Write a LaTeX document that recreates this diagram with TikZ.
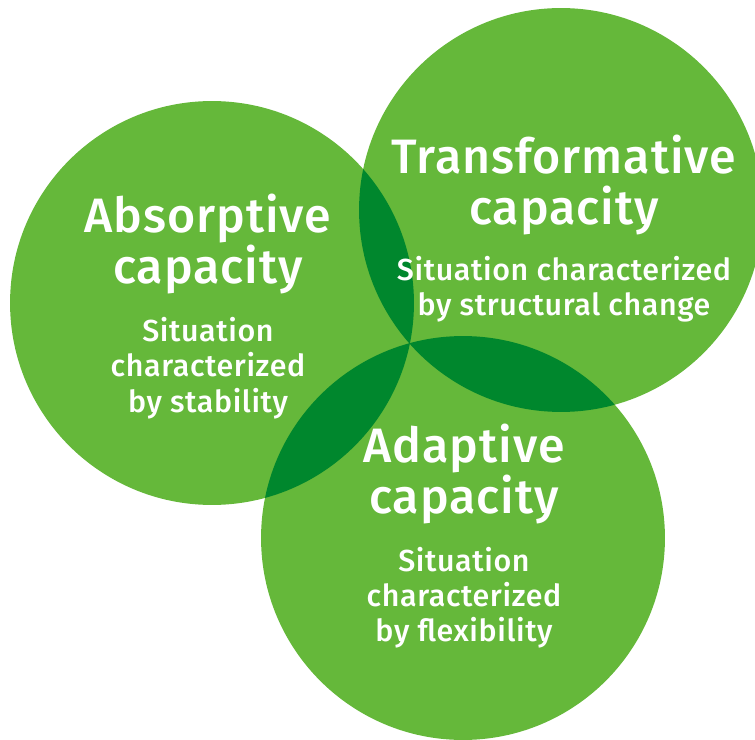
\documentclass[tikz,border=0pt]{standalone}
\usepackage{fontspec}
\setmainfont{Fira Sans}[UprightFont={* Medium}, LetterSpace=2]
\usetikzlibrary{positioning}

\definecolor{leafgreen}{HTML}{65B83A}
\definecolor{deepgreen}{HTML}{00872D}

\tikzset{
  bubble/.style={fill=leafgreen},
  overlap/.style={fill=deepgreen},
  title/.style={text=white, align=center, inner sep=0pt,
    font=\fontsize{27.5}{29.5}\selectfont},
  caption/.style={text=white, align=center, inner sep=0pt,
    font=\fontsize{17.3}{20}\selectfont},
}

\begin{document}
\begin{tikzpicture}[x=0.02cm, y=-0.02cm]
    \useasboundingbox (0,0) rectangle (755,740);
    \clip (0,0) rectangle (755,740);

    % Centres des trois cercles
    \coordinate (absorb) at (212,303);
    \coordinate (transf) at (561,210);
    \coordinate (adapt)  at (463,538);
    \def\rad{4.04cm}

    % Cercles
    \foreach \c in {absorb, transf, adapt}
        \fill[bubble] (\c) circle[radius=\rad];

    % Zones de recouvrement
    \begin{scope}
        \clip (absorb) circle[radius=\rad];
        \fill[overlap] (transf) circle[radius=\rad];
        \fill[overlap] (adapt) circle[radius=\rad];
    \end{scope}
    \begin{scope}
        \clip (transf) circle[radius=\rad];
        \fill[overlap] (adapt) circle[radius=\rad];
    \end{scope}

    % Textes
    \node[title] (absorbtitle) at (208,244) {Absorptive\\capacity};
    \node[caption, below=0.45cm of absorbtitle] (absorbtext)
        {Situation\\characterized\\by stability};

    \node[title] (transftitle) at (564,185) {Transformative\\capacity};
    \node[caption, below=0.4cm of transftitle] (transftext)
        {Situation characterized\\by structural change};

    \node[title] (adapttitle) at (464,474) {Adaptive\\capacity};
    \node[caption, below=0.44cm of adapttitle] (adapttext)
        {Situation\\characterized\\by flexibility};
\end{tikzpicture}
\end{document}
